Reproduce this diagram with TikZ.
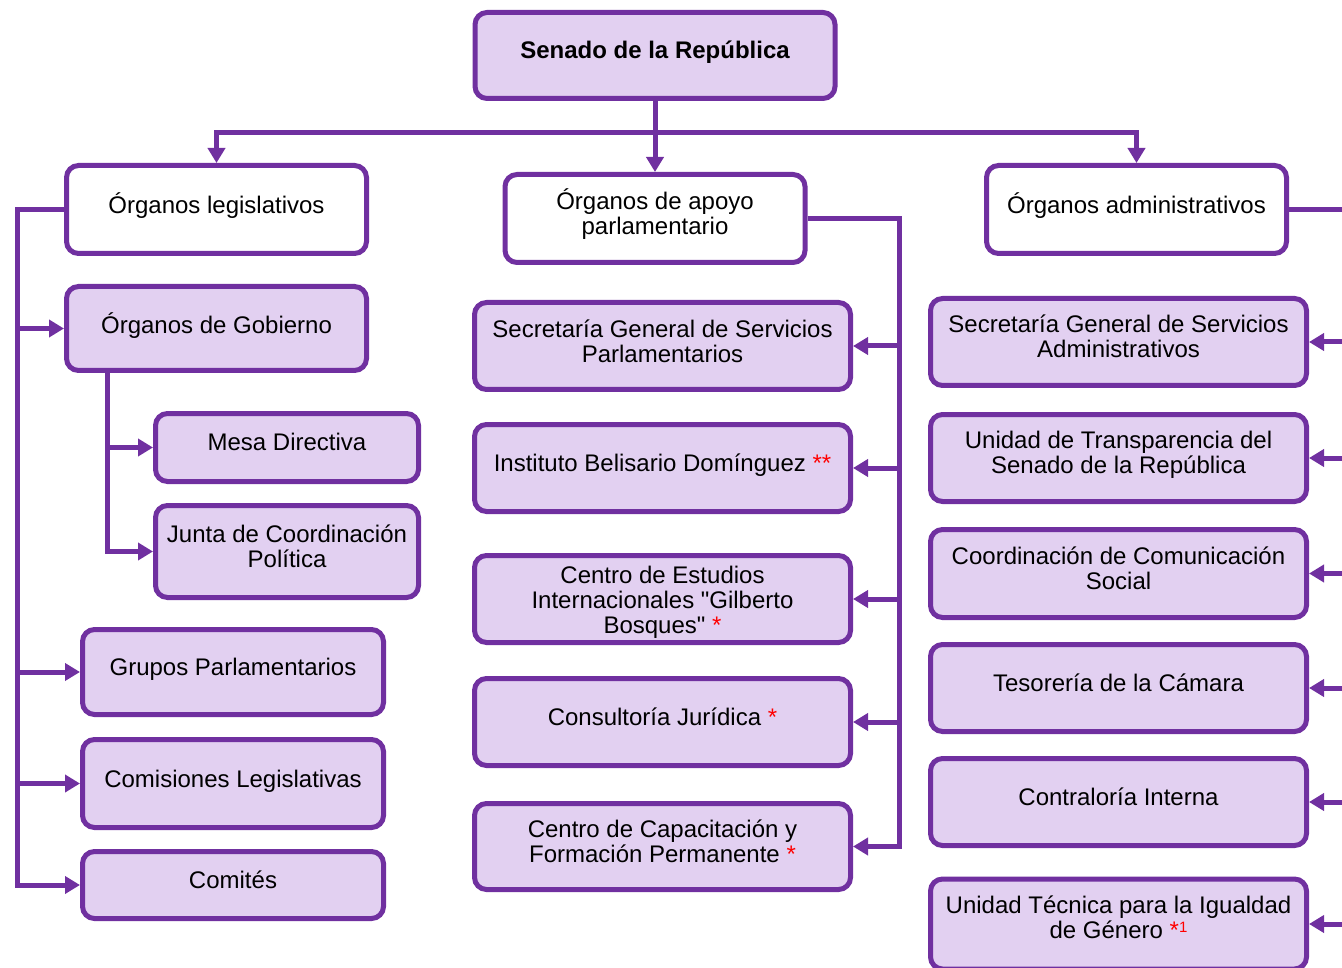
\documentclass[tikz,border=0pt]{standalone}
\usepackage{fontspec}
\setmainfont{Liberation Sans}
\usetikzlibrary{arrows.meta}
\definecolor{morado}{HTML}{7030A0}
\definecolor{lila}{HTML}{E2D0F1}
\newcommand{\stk}[2][2pt]{\raisebox{#1}[\height][\depth]{\vbox{\let\\\cr\baselineskip=25pt\lineskiplimit=-20pt\halign{\strut\hfil##\hfil\cr#2\crcr}}}}
\newcommand{\nota}[1]{\textcolor{red}{#1}}
\newcommand{\dq}{\XeTeXglyph\XeTeXcharglyph"22\relax}

\begin{document}
\begin{tikzpicture}[%
    x=1pt,y=-1pt,
    unit/.style={
      rectangle,
      draw=morado,
      line width=5pt,
      fill=lila,
      rounded corners=12pt,
      inner sep=0pt,
      font=\fontsize{24}{25}\selectfont
    },
    head/.style={
      unit,
      fill=white
    },
    line/.style={
      draw=morado,
      line width=5pt,
      -{Triangle[length=15pt,width=17pt]}
    },
    bus/.style={
      draw=morado,
      line width=5pt
    }
  ]
  \useasboundingbox (0,0) rectangle (1342,968);
  \clip (0,0) rectangle (1342,968);

  \node[unit, minimum width=360pt, minimum height=86pt, font=\fontsize{24}{25}\selectfont\bfseries] (senado) at (655,55.5) {\stk{Senado de la República}};

  \node[head, minimum width=300pt, minimum height=88pt] (legis) at (216.5,209.5) {\stk[3pt]{Órganos legislativos}};
  \node[head, minimum width=300pt, minimum height=88pt] (apoyo) at (655,218.5) {\stk[3pt]{Órganos de apoyo\\parlamentario}};
  \node[head, minimum width=300pt, minimum height=88pt] (admin) at (1136.5,209.5) {\stk[3pt]{Órganos administrativos}};

  % organos legislativos
  \node[unit, minimum width=300pt, minimum height=84pt] (gobierno) at (216.5,328.5) {\stk{Órganos de Gobierno}};
  \node[unit, minimum width=263pt, minimum height=68pt] (mesa) at (287,447.5) {\stk{Mesa Directiva}};
  \node[unit, minimum width=263pt, minimum height=92pt] (junta) at (287,551.5) {\stk{Junta de Coordinación\\Política}};
  \node[unit, minimum width=301pt, minimum height=85pt] (grupos) at (233,672) {\stk{Grupos Parlamentarios}};
  \node[unit, minimum width=301pt, minimum height=88pt] (comisiones) at (233,783.5) {\stk[1pt]{Comisiones Legislativas}};
  \node[unit, minimum width=301pt, minimum height=67pt] (comites) at (233,885) {\stk{Comités}};

  % organos de apoyo parlamentario
  \node[unit, minimum width=376pt, minimum height=87pt] (sgsp) at (662.5,346) {\stk[1pt]{Secretaría General de Servicios\\Parlamentarios}};
  \node[unit, minimum width=376pt, minimum height=87pt] (ibd) at (662.5,468) {\stk{Instituto Belisario Domínguez \nota{**}}};
  \node[unit, minimum width=376pt, minimum height=87pt] (ceigb) at (662.5,599) {\stk[-4pt]{Centro de Estudios\\Internacionales \dq Gilberto\\Bosques\dq{} \nota{*}}};
  \node[unit, minimum width=376pt, minimum height=87pt] (cj) at (662.5,722) {\stk{Consultoría Jurídica \nota{*}}};
  \node[unit, minimum width=376pt, minimum height=86pt] (ccfp) at (662.5,846.5) {\stk{Centro de Capacitación y\\Formación Permanente \nota{*}}};

  % organos administrativos
  \node[unit, minimum width=376pt, minimum height=87pt] (sgsa) at (1118.5,342) {\stk{Secretaría General de Servicios\\Administrativos}};
  \node[unit, minimum width=376pt, minimum height=87pt] (ut) at (1118.5,458) {\stk{Unidad de Transparencia del\\Senado de la República}};
  \node[unit, minimum width=376pt, minimum height=88pt] (ccs) at (1118.5,573.5) {\stk{Coordinación de Comunicación\\Social}};
  \node[unit, minimum width=376pt, minimum height=87pt] (tes) at (1118.5,688) {\stk{Tesorería de la Cámara}};
  \node[unit, minimum width=376pt, minimum height=87pt] (ci) at (1118.5,802) {\stk{Contraloría Interna}};
  \node[unit, minimum width=376pt, minimum height=90pt] (utig) at (1118.5,924) {\stk[3pt]{Unidad Técnica para la Igualdad\\de Género \nota{*\raisebox{6pt}{\fontsize{15}{15}\selectfont 1}}}};

  \coordinate (split) at (655,133);
  \coordinate (lbus) at (17,209.5);
  \coordinate (gbus) at (107,373);
  \coordinate (mbus) at (899,218.5);
  \coordinate (rbus) at (1352,209.5);

  \draw[bus] (senado) -- (split);
  \draw[line] (split) -| (legis);
  \draw[line] (split) -| (admin);
  \draw[line] (senado) -- (apoyo);

  \draw[line] (legis.west) -- (lbus) |- (gobierno);
  \draw[line] (lbus) |- (grupos);
  \draw[line] (lbus) |- (comisiones);
  \draw[line] (lbus) |- (comites);
  \draw[line] (gbus) |- (mesa);
  \draw[line] (gbus) |- (junta);

  \draw[line] (apoyo.east) -- (mbus) |- (sgsp);
  \draw[line] (mbus) |- (ibd);
  \draw[line] (mbus) |- (ceigb);
  \draw[line] (mbus) |- (cj);
  \draw[line] (mbus) |- (ccfp);

  \draw[line] (admin.east) -- (rbus) |- (sgsa);
  \draw[line] (rbus) |- (ut);
  \draw[line] (rbus) |- (ccs);
  \draw[line] (rbus) |- (tes);
  \draw[line] (rbus) |- (ci);
  \draw[line] (rbus) |- (utig);
\end{tikzpicture}
\end{document}
